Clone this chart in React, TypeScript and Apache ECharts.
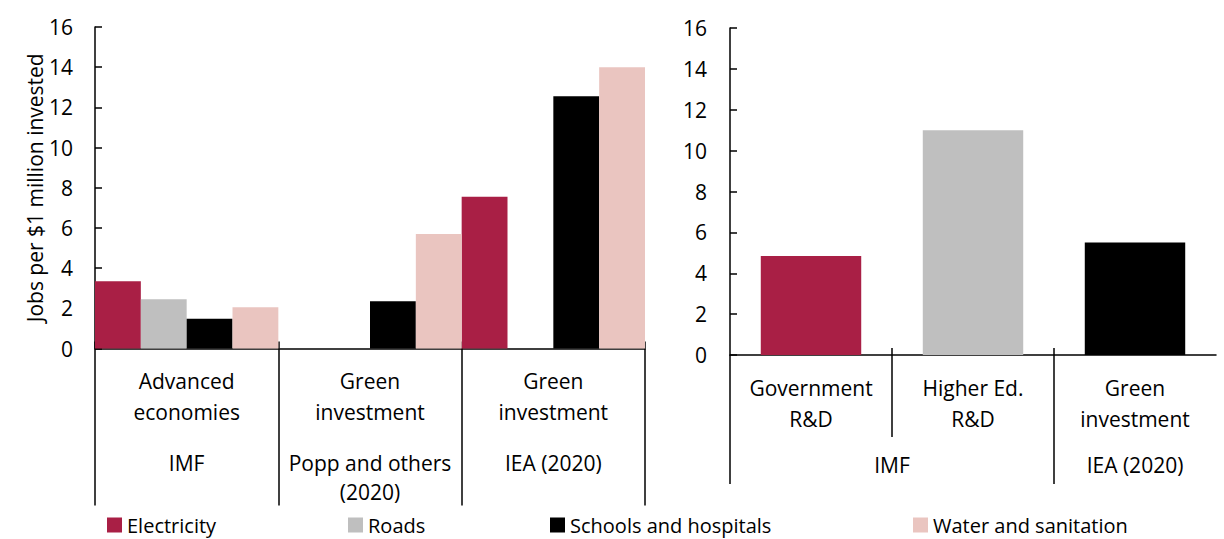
import React, { useEffect, useRef } from "react";
import * as echarts from "echarts";

const leftCategories = ["Advanced\neconomies", "Green\ninvestment", "Green\ninvestment"];
const leftSources = ["IMF", "Popp and others\n(2020)", "IEA (2020)"];
const electricity = [3.35, null, 7.55];
const roads = [2.45, null, null];
const schools = [1.48, 2.35, 12.55];
const water = [2.05, 5.7, 14.0];

const rightCategories = ["Government\nR&D", "Higher Ed.\nR&D", "Green\ninvestment"];
const rightSourceLabels: Record<number, string> = { 1: "IMF", 2.5: "IEA (2020)" };
const rightValues = [4.85, 11.0, 5.5];

const seriesNames = ["Electricity", "Roads", "Schools and hospitals", "Water and sanitation"];
const colors = ["#A91F45", "#BFBFBF", "#000000", "#EAC5C0"];
const rightColors = ["#A91F45", "#BFBFBF", "#000000"];

const FONT = "Open Sans";
const BLACK = "#000";

export default function App() {
  const ref = useRef<HTMLDivElement>(null);
  useEffect(() => {
    if (!ref.current) return;
    const chart = echarts.init(ref.current, null, { renderer: "svg" });
    const line = { lineStyle: { color: BLACK, width: 1.5 } };
    const txt = { color: BLACK, fontFamily: FONT, fontSize: 21 };
    const legendLefts = [107, 348, 550, 913];
    const leftData = [electricity, roads, schools, water];
    const hiddenValueAxis = {
      type: "value",
      gridIndex: 1,
      position: "bottom",
      min: 0,
      max: 3,
      axisLine: { show: false },
      splitLine: { show: false },
    };
    chart.setOption({
      animation: false,
      textStyle: { fontFamily: FONT },
      grid: [
        { left: 95, width: 550, top: 27, height: 321.5, containLabel: false, outerBoundsMode: "none" },
        { left: 730, width: 486, top: 28, height: 327, containLabel: false, outerBoundsMode: "none" },
      ],
      legend: seriesNames.map((n, i) => ({
        data: [n],
        left: legendLefts[i],
        top: 515,
        padding: 0,
        itemWidth: 15,
        itemHeight: 15,
        icon: "rect",
        selectedMode: false,
        textStyle: { ...txt, fontSize: 20, lineHeight: 20, padding: [0, 0, 0, 0] },
      })),
      xAxis: [
        {
          type: "category",
          gridIndex: 0,
          position: "bottom",
          data: leftCategories,
          axisLine: { show: true, ...line },
          axisTick: { show: true, interval: 0, length: 157, ...line },
          axisLabel: { ...txt, interval: 0, margin: 17, lineHeight: 31 },
        },
        {
          type: "category",
          gridIndex: 0,
          position: "bottom",
          data: leftSources,
          axisLine: { show: false },
          axisTick: { show: false },
          axisLabel: { ...txt, interval: 0, margin: 100, lineHeight: 29 },
        },
        {
          type: "category",
          gridIndex: 0,
          position: "bottom",
          data: leftCategories,
          axisLine: { show: false },
          axisTick: { show: true, inside: true, interval: 0, length: 7, ...line },
          axisLabel: { show: false },
        },
        {
          type: "category",
          gridIndex: 1,
          position: "bottom",
          data: rightCategories,
          axisLine: { show: true, ...line },
          axisTick: { show: false },
          axisLabel: { ...txt, interval: 0, margin: 17, lineHeight: 31 },
        },
        {
          ...hiddenValueAxis,
          axisTick: { show: true, customValues: [1], length: 82, ...line },
          axisLabel: {
            ...txt,
            customValues: [1, 2.5],
            margin: 99,
            formatter: (v: number) => rightSourceLabels[v] ?? "",
          },
        },
        {
          ...hiddenValueAxis,
          axisTick: { show: true, customValues: [0, 2], length: 129, ...line },
          axisLabel: { show: false },
        },
        {
          ...hiddenValueAxis,
          axisTick: { show: true, inside: true, customValues: [1, 2], length: 7, ...line },
          axisLabel: { show: false },
        },
      ],
      yAxis: [
        {
          type: "value",
          gridIndex: 0,
          min: 0,
          max: 16,
          interval: 2,
          axisLine: { show: true, ...line },
          axisTick: { show: true, inside: true, length: 7, ...line },
          axisLabel: { ...txt, margin: 22 },
          splitLine: { show: false },
          name: "Jobs per $1 million invested",
          nameLocation: "middle",
          nameGap: 46,
          nameTextStyle: { ...txt, fontSize: 21 },
        },
        {
          type: "value",
          gridIndex: 1,
          min: 0,
          max: 16,
          interval: 2,
          axisLine: { show: true, ...line },
          axisTick: { show: true, inside: true, length: 7, ...line },
          axisLabel: { ...txt, margin: 23 },
          splitLine: { show: false },
        },
      ],
      series: [
        ...seriesNames.map((n, i) => ({
          type: "bar",
          name: n,
          xAxisIndex: 0,
          yAxisIndex: 0,
          data: leftData[i].map((v) => (v === null ? "-" : v)),
          itemStyle: { color: colors[i] },
          barGap: "0%",
          barCategoryGap: "0%",
          z: 1,
        })),
        {
          type: "bar",
          name: "Right panel",
          xAxisIndex: 3,
          yAxisIndex: 1,
          data: rightValues.map((v, i) => ({ value: v, itemStyle: { color: rightColors[i] } })),
          barCategoryGap: "38%",
          z: 1,
        },
      ],
    });
    return () => chart.dispose();
  }, []);
  return (
    <div
      ref={ref}
      style={{ position: "fixed", left: 0, top: 0, width: 1224, height: 539, background: "#fff" }}
    />
  );
}
